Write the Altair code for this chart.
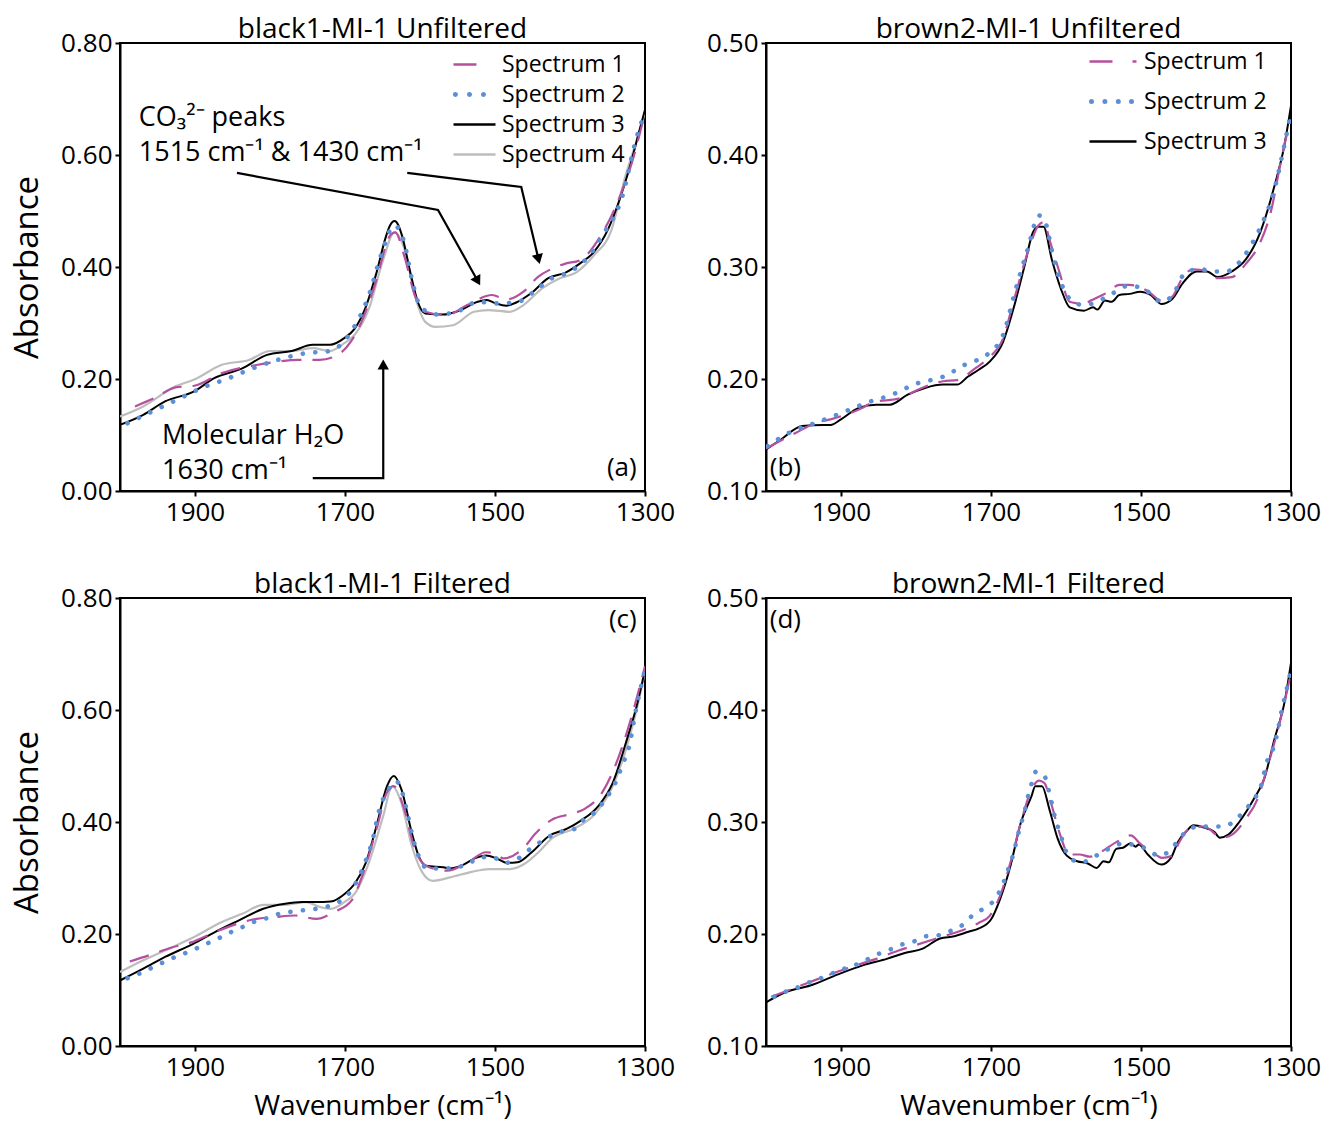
import altair as alt
import pandas as pd

FONT = "Open Sans"
NAMES = ["Spectrum 1", "Spectrum 2", "Spectrum 3", "Spectrum 4"]
COLORS = ["#B5509F", "#5B8FD6", "#000000", "#BDBDBD"]
X_TICKS = [1900, 1700, 1500, 1300]

# ---------------- (a) black1-MI-1 Unfiltered ----------------
A_S1_WN = [1980, 1954, 1926, 1901, 1865, 1818, 1790, 1762, 1734, 1711, 1692, 1678, 1659, 1640, 1633, 1621, 1607, 1593, 1565, 1537, 1504, 1485, 1462, 1443, 1424, 1406, 1387, 1359, 1335, 1316, 1300]
A_S1 = [0.151, 0.166, 0.185, 0.188, 0.210, 0.225, 0.231, 0.234, 0.234, 0.242, 0.267, 0.302, 0.373, 0.456, 0.462, 0.420, 0.350, 0.320, 0.314, 0.332, 0.350, 0.342, 0.356, 0.382, 0.397, 0.406, 0.412, 0.456, 0.521, 0.593, 0.676]
A_S2_WN = [1990, 1957, 1924, 1891, 1856, 1823, 1790, 1753, 1720, 1692, 1668, 1652, 1634, 1621, 1610, 1598, 1574, 1546, 1523, 1499, 1471, 1448, 1424, 1406, 1378, 1354, 1330, 1312, 1300]
A_S2 = [0.121, 0.142, 0.163, 0.184, 0.201, 0.219, 0.234, 0.246, 0.250, 0.284, 0.350, 0.421, 0.474, 0.444, 0.373, 0.326, 0.315, 0.323, 0.338, 0.335, 0.337, 0.356, 0.380, 0.388, 0.415, 0.462, 0.527, 0.628, 0.676]
A_S3_WN = [2000, 1969, 1940, 1901, 1875, 1837, 1804, 1771, 1743, 1720, 1701, 1687, 1673, 1659, 1645, 1640, 1634, 1629, 1624, 1612, 1603, 1593, 1570, 1546, 1523, 1511, 1499, 1485, 1471, 1452, 1429, 1406, 1387, 1368, 1349, 1335, 1321, 1307, 1300]
A_S3 = [0.118, 0.136, 0.160, 0.178, 0.201, 0.219, 0.243, 0.250, 0.261, 0.261, 0.273, 0.290, 0.326, 0.385, 0.456, 0.474, 0.482, 0.475, 0.456, 0.385, 0.338, 0.317, 0.315, 0.323, 0.338, 0.341, 0.335, 0.331, 0.337, 0.353, 0.380, 0.390, 0.406, 0.427, 0.468, 0.516, 0.575, 0.646, 0.681]
A_S4_WN = [2000, 1969, 1926, 1901, 1865, 1828, 1800, 1771, 1743, 1720, 1701, 1687, 1668, 1650, 1634, 1621, 1607, 1593, 1579, 1556, 1528, 1509, 1481, 1462, 1438, 1415, 1391, 1368, 1345, 1326, 1312, 1300]
A_S4 = [0.133, 0.151, 0.187, 0.199, 0.225, 0.234, 0.250, 0.250, 0.255, 0.250, 0.264, 0.279, 0.326, 0.409, 0.462, 0.433, 0.350, 0.302, 0.293, 0.296, 0.320, 0.323, 0.320, 0.332, 0.361, 0.379, 0.391, 0.421, 0.465, 0.563, 0.622, 0.676]

# ---------------- (b) brown2-MI-1 Unfiltered ----------------
B_S1_WN = [2000, 1960, 1933, 1914, 1872, 1858, 1821, 1792, 1764, 1745, 1722, 1703, 1684, 1670, 1651, 1637, 1630, 1621, 1609, 1595, 1576, 1567, 1543, 1529, 1515, 1492, 1473, 1459, 1445, 1431, 1412, 1398, 1379, 1360, 1341, 1327, 1313, 1301]
B_S1 = [0.138, 0.152, 0.161, 0.164, 0.174, 0.179, 0.183, 0.192, 0.198, 0.199, 0.209, 0.219, 0.236, 0.269, 0.313, 0.337, 0.340, 0.322, 0.296, 0.269, 0.267, 0.270, 0.278, 0.284, 0.284, 0.279, 0.270, 0.273, 0.290, 0.298, 0.296, 0.290, 0.291, 0.303, 0.322, 0.349, 0.396, 0.432]
B_S2_WN = [1998, 1966, 1933, 1898, 1865, 1832, 1799, 1764, 1734, 1703, 1684, 1668, 1651, 1636, 1627, 1619, 1609, 1602, 1593, 1576, 1546, 1518, 1501, 1487, 1473, 1456, 1449, 1438, 1421, 1402, 1386, 1372, 1351, 1337, 1323, 1311, 1300]
B_S2 = [0.140, 0.153, 0.161, 0.170, 0.179, 0.186, 0.196, 0.202, 0.213, 0.223, 0.239, 0.278, 0.316, 0.346, 0.339, 0.315, 0.290, 0.279, 0.270, 0.266, 0.273, 0.283, 0.282, 0.276, 0.269, 0.276, 0.287, 0.296, 0.298, 0.296, 0.296, 0.302, 0.322, 0.341, 0.367, 0.402, 0.438]
B_S3_WN = [2000, 1980, 1952, 1924, 1914, 1900, 1877, 1853, 1835, 1811, 1788, 1764, 1745, 1731, 1717, 1701, 1684, 1670, 1656, 1644, 1637, 1630, 1619, 1607, 1595, 1576, 1564, 1558, 1548, 1539, 1529, 1515, 1501, 1487, 1473, 1459, 1445, 1426, 1412, 1398, 1379, 1360, 1341, 1323, 1309, 1300]
B_S3 = [0.137, 0.146, 0.158, 0.159, 0.159, 0.164, 0.174, 0.177, 0.177, 0.186, 0.192, 0.195, 0.195, 0.202, 0.208, 0.216, 0.233, 0.263, 0.299, 0.331, 0.336, 0.336, 0.307, 0.281, 0.264, 0.261, 0.264, 0.262, 0.270, 0.269, 0.275, 0.276, 0.278, 0.275, 0.267, 0.271, 0.285, 0.296, 0.296, 0.291, 0.296, 0.307, 0.331, 0.370, 0.408, 0.444]

# ---------------- (c) black1-MI-1 Filtered ----------------
C_S1_WN = [1987, 1959, 1931, 1905, 1874, 1851, 1818, 1795, 1766, 1738, 1715, 1691, 1677, 1658, 1644, 1635, 1621, 1607, 1592, 1564, 1536, 1512, 1498, 1489, 1461, 1447, 1423, 1400, 1381, 1357, 1338, 1319, 1300]
C_S1 = [0.151, 0.163, 0.176, 0.185, 0.203, 0.215, 0.227, 0.230, 0.233, 0.227, 0.239, 0.260, 0.304, 0.387, 0.453, 0.464, 0.423, 0.352, 0.322, 0.313, 0.328, 0.346, 0.343, 0.335, 0.355, 0.378, 0.405, 0.414, 0.423, 0.453, 0.506, 0.583, 0.678]
C_S2_WN = [1990, 1971, 1954, 1938, 1921, 1905, 1889, 1872, 1856, 1839, 1823, 1805, 1788, 1771, 1752, 1734, 1717, 1701, 1689, 1675, 1663, 1654, 1642, 1632, 1623, 1616, 1609, 1602, 1590, 1571, 1552, 1536, 1520, 1503, 1487, 1470, 1456, 1442, 1426, 1409, 1393, 1379, 1364, 1353, 1343, 1329, 1322, 1312, 1300]
C_S2 = [0.121, 0.131, 0.142, 0.152, 0.162, 0.170, 0.180, 0.190, 0.201, 0.211, 0.221, 0.228, 0.236, 0.240, 0.243, 0.246, 0.252, 0.264, 0.283, 0.322, 0.369, 0.423, 0.458, 0.473, 0.450, 0.411, 0.369, 0.340, 0.317, 0.317, 0.319, 0.325, 0.337, 0.337, 0.327, 0.334, 0.349, 0.362, 0.375, 0.384, 0.388, 0.408, 0.420, 0.441, 0.460, 0.506, 0.530, 0.601, 0.672]
C_S3_WN = [2000, 1969, 1940, 1903, 1874, 1842, 1809, 1780, 1757, 1738, 1719, 1701, 1686, 1672, 1658, 1644, 1635, 1625, 1611, 1602, 1592, 1569, 1560, 1545, 1527, 1512, 1498, 1484, 1470, 1451, 1428, 1404, 1386, 1362, 1343, 1324, 1310, 1300]
C_S3 = [0.117, 0.138, 0.159, 0.182, 0.203, 0.224, 0.245, 0.254, 0.257, 0.257, 0.258, 0.271, 0.292, 0.328, 0.393, 0.464, 0.482, 0.459, 0.381, 0.340, 0.322, 0.319, 0.317, 0.322, 0.335, 0.340, 0.335, 0.327, 0.328, 0.346, 0.375, 0.388, 0.402, 0.429, 0.470, 0.548, 0.613, 0.672]
C_S4_WN = [2000, 1969, 1931, 1898, 1865, 1837, 1809, 1780, 1752, 1733, 1719, 1701, 1686, 1668, 1649, 1637, 1625, 1611, 1597, 1583, 1560, 1531, 1508, 1480, 1461, 1442, 1423, 1395, 1367, 1343, 1324, 1310, 1300]
C_S4 = [0.132, 0.153, 0.176, 0.197, 0.221, 0.236, 0.252, 0.252, 0.257, 0.248, 0.245, 0.257, 0.274, 0.328, 0.411, 0.464, 0.435, 0.358, 0.310, 0.295, 0.301, 0.311, 0.316, 0.316, 0.325, 0.346, 0.372, 0.388, 0.414, 0.464, 0.536, 0.607, 0.669]

# ---------------- (d) brown2-MI-1 Filtered ----------------
D_S1_WN = [1993, 1965, 1918, 1880, 1852, 1824, 1801, 1768, 1744, 1716, 1702, 1688, 1674, 1660, 1646, 1636, 1629, 1620, 1608, 1596, 1582, 1568, 1554, 1533, 1514, 1500, 1486, 1472, 1458, 1449, 1435, 1416, 1392, 1378, 1360, 1345, 1331, 1315, 1301]
D_S1 = [0.144, 0.151, 0.163, 0.172, 0.178, 0.185, 0.190, 0.197, 0.202, 0.210, 0.216, 0.234, 0.264, 0.300, 0.329, 0.337, 0.335, 0.317, 0.289, 0.271, 0.271, 0.269, 0.273, 0.282, 0.288, 0.280, 0.274, 0.268, 0.270, 0.282, 0.294, 0.296, 0.286, 0.289, 0.303, 0.320, 0.350, 0.389, 0.430]
D_S2_WN = [1989, 1972, 1955, 1938, 1921, 1904, 1887, 1871, 1855, 1838, 1822, 1804, 1787, 1769, 1753, 1736, 1724, 1709, 1696, 1687, 1680, 1675, 1669, 1665, 1660, 1655, 1651, 1646, 1640, 1628, 1623, 1619, 1615, 1610, 1604, 1598, 1582, 1566, 1553, 1539, 1524, 1507, 1492, 1477, 1462, 1451, 1439, 1423, 1406, 1389, 1374, 1362, 1350, 1341, 1332, 1324, 1319, 1312, 1308, 1300]
D_S2 = [0.144, 0.149, 0.153, 0.158, 0.162, 0.167, 0.171, 0.175, 0.181, 0.185, 0.190, 0.193, 0.198, 0.199, 0.203, 0.209, 0.217, 0.223, 0.230, 0.240, 0.252, 0.262, 0.274, 0.286, 0.298, 0.310, 0.322, 0.334, 0.345, 0.340, 0.328, 0.317, 0.305, 0.294, 0.282, 0.271, 0.264, 0.267, 0.273, 0.277, 0.281, 0.279, 0.276, 0.270, 0.274, 0.283, 0.292, 0.296, 0.296, 0.296, 0.302, 0.310, 0.320, 0.330, 0.354, 0.365, 0.377, 0.401, 0.412, 0.436]
D_S3_WN = [2000, 1974, 1941, 1904, 1871, 1838, 1815, 1791, 1768, 1749, 1730, 1716, 1700, 1688, 1674, 1660, 1646, 1641, 1632, 1622, 1611, 1599, 1585, 1571, 1559, 1550, 1543, 1533, 1524, 1514, 1507, 1503, 1491, 1473, 1460, 1451, 1439, 1430, 1416, 1402, 1395, 1383, 1369, 1350, 1336, 1322, 1308, 1300]
D_S3 = [0.139, 0.148, 0.154, 0.164, 0.172, 0.178, 0.183, 0.187, 0.196, 0.198, 0.202, 0.205, 0.213, 0.231, 0.261, 0.300, 0.323, 0.332, 0.332, 0.311, 0.285, 0.270, 0.265, 0.263, 0.259, 0.265, 0.264, 0.276, 0.277, 0.281, 0.278, 0.280, 0.271, 0.262, 0.268, 0.282, 0.292, 0.297, 0.295, 0.291, 0.286, 0.289, 0.300, 0.320, 0.338, 0.374, 0.409, 0.442]

# ---------------- annotations (panel a, data units) ----------------
NOTE_TEXT = ["CO₃²⁻ peaks", "1515 cm⁻¹ & 1430 cm⁻¹", "Molecular H₂O", "1630 cm⁻¹"]
NOTE_WN = [1975, 1975, 1944, 1944]
NOTE_Y = [0.666, 0.604, 0.098, 0.036]
ARROW_ID = [1, 1, 1, 2, 2, 2, 3, 3, 3]
ARROW_SEQ = [0, 1, 2, 0, 1, 2, 0, 1, 2]
ARROW_WN = [1844, 1576, 1523, 1617, 1465, 1442, 1743, 1649, 1649]
ARROW_Y = [0.568, 0.502, 0.375, 0.568, 0.543, 0.414, 0.023, 0.023, 0.226]
HEAD_WN = [1523, 1442, 1649]
HEAD_Y = [0.375, 0.414, 0.226]
HEAD_ANGLE = [151, 166, 0]

STYLE = {
    "Spectrum 1": dict(color=COLORS[0], strokeWidth=2.2, strokeDash=[20, 11], strokeCap="butt"),
    "Spectrum 2": dict(color=COLORS[1], strokeWidth=4.6, strokeDash=[0.1, 12.5], strokeCap="round"),
    "Spectrum 3": dict(color=COLORS[2], strokeWidth=2.0, strokeCap="butt"),
    "Spectrum 4": dict(color=COLORS[3], strokeWidth=2.2, strokeCap="butt"),
}
DRAW_ORDER = ["Spectrum 4", "Spectrum 3", "Spectrum 1", "Spectrum 2"]


def dot(c, r):
    return f"M{c - r:.3f},0a{r:.3f},{r:.3f} 0 1,0 {2 * r:.3f},0a{r:.3f},{r:.3f} 0 1,0 {-2 * r:.3f},0"


def dots(centers, r):
    return "".join(dot(c, r) for c in centers)


LEGEND_A = dict(
    x=344, y=5, size=900, rp=1, lo=5,
    paths=["M-1.8,0H-0.27", dots([-1.67, -0.73, 0.2], 0.083), "M-1.8,0H1", "M-1.8,0H1"],
)
LEGEND_B = dict(
    x=330, y=-3, size=1600, rp=6, lo=5,
    paths=["M-1.4,0H-0.25M0.75,0H0.95", dots([-1.3, -0.63, 0.04, 0.7], 0.0625), "M-1.4,0H0.95"],
)


def long_df(series):
    rows = []
    for name, (wn, vals) in series.items():
        for w, v in zip(wn, vals):
            rows.append({"wn": w, "absb": v, "spectrum": name})
    return pd.DataFrame(rows)


def panel(series, ydom, yvals, title, ytitle, xtitle, tag, tag_pos, legend=None, notes=False):
    df = long_df(series)
    x = alt.X(
        "wn:Q",
        scale=alt.Scale(domain=[1300, 2000], reverse=True, nice=False, zero=False),
        axis=alt.Axis(values=X_TICKS, format="d", title=xtitle, labelFlush=False,
                      titleFontSize=28, titlePadding=12, labelPadding=3),
    )
    y = alt.Y(
        "absb:Q",
        scale=alt.Scale(domain=ydom, nice=False, zero=False),
        axis=alt.Axis(values=yvals, format=".2f", title=ytitle, titleFontSize=33,
                      titlePadding=16, labelPadding=3),
    )
    layers = []
    for name in DRAW_ORDER:
        if name not in series:
            continue
        st = STYLE[name]
        kw = dict(color=st["color"], strokeWidth=st["strokeWidth"], strokeCap=st["strokeCap"],
                  interpolate="monotone", clip=True)
        if "strokeDash" in st:
            kw["strokeDash"] = st["strokeDash"]
        layers.append(
            alt.Chart(df).transform_filter(alt.datum.spectrum == name).mark_line(**kw).encode(x=x, y=y)
        )
    if legend is not None:
        names = list(series.keys())
        cols = [COLORS[NAMES.index(n)] for n in names]
        leg = alt.Legend(
            title=None, orient="none", legendX=legend["x"], legendY=legend["y"],
            symbolSize=legend["size"], symbolStrokeWidth=2.5, symbolOpacity=1,
            labelFont=FONT, labelFontSize=23, labelColor="black", labelOffset=legend["lo"],
            rowPadding=legend["rp"], padding=0,
        )
        layers.append(
            alt.Chart(df).transform_filter("false")
            .mark_point(filled=False, strokeWidth=2.5, opacity=1)
            .encode(
                x=x, y=y,
                color=alt.Color("spectrum:N", scale=alt.Scale(domain=names, range=cols), legend=leg),
                shape=alt.Shape("spectrum:N", scale=alt.Scale(domain=names, range=legend["paths"]), legend=leg),
            )
        )
    if notes:
        ndf = pd.DataFrame({"wn": NOTE_WN, "absb": NOTE_Y, "text": NOTE_TEXT})
        layers.append(
            alt.Chart(ndf).mark_text(align="left", baseline="middle", font=FONT, fontSize=27, color="black")
            .encode(x=x, y=y, text="text:N")
        )
        adf = pd.DataFrame({"wn": ARROW_WN, "absb": ARROW_Y, "arrow": ARROW_ID, "seq": ARROW_SEQ})
        layers.append(
            alt.Chart(adf).mark_line(color="black", strokeWidth=2.2)
            .encode(x=x, y=y, detail="arrow:N", order="seq:Q")
        )
        hdf = pd.DataFrame({"wn": HEAD_WN, "absb": HEAD_Y, "ang": HEAD_ANGLE})
        layers.append(
            alt.Chart(hdf).mark_point(shape="triangle-up", filled=True, color="black", opacity=1, size=130)
            .encode(x=x, y=y, angle=alt.Angle("ang:Q", scale=None))
        )
    tdf = pd.DataFrame({"wn": [tag_pos[0]], "absb": [tag_pos[1]], "text": [tag]})
    layers.append(
        alt.Chart(tdf).mark_text(align=tag_pos[2], baseline="middle", font=FONT, fontSize=26, color="black")
        .encode(x=x, y=y, text="text:N")
    )
    return alt.layer(*layers).properties(
        width=525, height=448,
        title=alt.TitleParams(title, font=FONT, fontSize=28, fontWeight="normal", color="black",
                              offset=-14, anchor="middle"),
    )


pa = panel({"Spectrum 1": (A_S1_WN, A_S1), "Spectrum 2": (A_S2_WN, A_S2),
            "Spectrum 3": (A_S3_WN, A_S3), "Spectrum 4": (A_S4_WN, A_S4)},
           [0, 0.8], [0, 0.2, 0.4, 0.6, 0.8], "black1-MI-1 Unfiltered", "Absorbance", None,
           "(a)", (1311, 0.041, "right"), legend=LEGEND_A, notes=True)
pb = panel({"Spectrum 1": (B_S1_WN, B_S1), "Spectrum 2": (B_S2_WN, B_S2), "Spectrum 3": (B_S3_WN, B_S3)},
           [0.1, 0.5], [0.1, 0.2, 0.3, 0.4, 0.5], "brown2-MI-1 Unfiltered", None, None,
           "(b)", (1995, 0.1205, "left"), legend=LEGEND_B)
pc = panel({"Spectrum 1": (C_S1_WN, C_S1), "Spectrum 2": (C_S2_WN, C_S2),
            "Spectrum 3": (C_S3_WN, C_S3), "Spectrum 4": (C_S4_WN, C_S4)},
           [0, 0.8], [0, 0.2, 0.4, 0.6, 0.8], "black1-MI-1 Filtered", "Absorbance", "Wavenumber (cm⁻¹)",
           "(c)", (1311, 0.761, "right"))
pd_ = panel({"Spectrum 1": (D_S1_WN, D_S1), "Spectrum 2": (D_S2_WN, D_S2), "Spectrum 3": (D_S3_WN, D_S3)},
            [0.1, 0.5], [0.1, 0.2, 0.3, 0.4, 0.5], "brown2-MI-1 Filtered", None, "Wavenumber (cm⁻¹)",
            "(d)", (1995, 0.4806, "left"))

top = alt.hconcat(pa, pb, spacing=29).resolve_scale(color="independent", shape="independent")
bottom = alt.hconcat(pc, pd_, spacing=29).resolve_scale(color="independent", shape="independent")
chart = (
    alt.vconcat(top, bottom, spacing=44)
    .resolve_scale(color="independent", shape="independent")
    .properties(padding={"left": 10, "top": 15, "right": 5, "bottom": 2}, background="white")
    .configure_view(stroke="black", strokeWidth=2)
    .configure_axis(
        domainColor="black", domainWidth=2, tickColor="black", tickWidth=2, tickSize=5,
        labelColor="black", labelFont=FONT, labelFontSize=26, titleFont=FONT, titleColor="black",
        titleFontWeight="normal", grid=False,
    )
)

chart.save("out.html", embed_options={"renderer": "svg", "actions": False})
